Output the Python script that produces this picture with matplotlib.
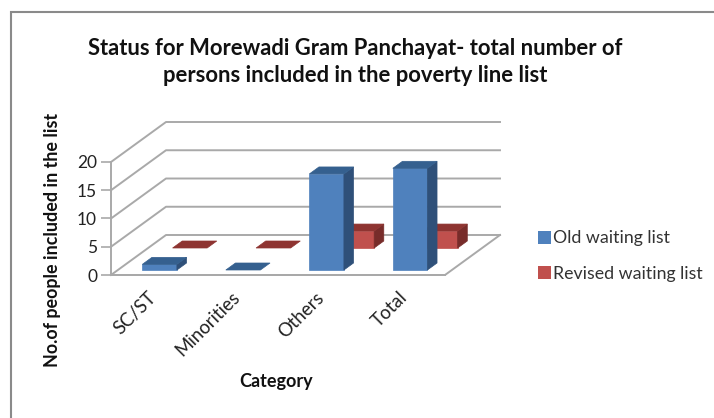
import matplotlib
matplotlib.use('AGG')
import matplotlib.pyplot as plt
from matplotlib.patches import Patch, Polygon, Rectangle
from matplotlib.transforms import ScaledTranslation

categories = ['SC/ST', 'Minorities', 'Others', 'Total']
old_list = [1, 0, 17, 18]
revised_list = [0, 0, 3, 3]
y_ticks = [0, 5, 10, 15, 20]

W, H = 714, 418
plt.rcParams['font.family'] = ['Lato', 'DejaVu Sans']

fig = plt.figure(figsize=(W / 100, H / 100), dpi=100)
# axes is the front plane of the fake 3d box
ax = fig.add_axes([111 / W, 1 - 275 / H, 334 / W, 113 / H])
ax.set_xlim(-0.5, 3.5)
ax.set_ylim(0, 20)

# depth offset of the whole box, in data units
depth_x = 55 / 83.5
depth_y = 40 / 5.65
grid_c = '#a9a9a9'


def proj(x, v, d):
    return x + d * depth_x, v + d * depth_y


def face(pts, color, z):
    ax.add_patch(Polygon([proj(*p) for p in pts], closed=True, facecolor=color,
                         edgecolor=color, lw=0.5, clip_on=False, zorder=z))


def bar3d(x0, x1, v, d0, d1, front, top, side, z):
    if v > 0:
        face([(x0, 0, d0), (x1, 0, d0), (x1, v, d0), (x0, v, d0)], front, z)
        face([(x1, 0, d0), (x1, 0, d1), (x1, v, d1), (x1, v, d0)], side, z)
    face([(x0, v, d0), (x1, v, d0), (x1, v, d1), (x0, v, d1)], top, z)


# gridlines on side wall and back wall
for v in y_ticks:
    px, py = zip(proj(-0.5, v, 0), proj(-0.5, v, 1), proj(3.5, v, 1))
    ax.plot(px, py, color=grid_c, lw=1.4, clip_on=False, zorder=1)
px, py = zip(proj(-0.5, 0, 0), proj(3.5, 0, 0), proj(3.5, 0, 1))
ax.plot(px, py, color=grid_c, lw=1.4, clip_on=False, zorder=1)

half = 0.207
for i in range(4):
    bar3d(i - half, i + half, revised_list[i], 0.675, 0.85,
          '#c0504d', '#8e3431', '#772c2a', 3)
for i in range(4):
    bar3d(i - half, i + half, old_list[i], 0.125, 0.3,
          '#4f81bd', '#35608f', '#2f5079', 4)

ax.patch.set_visible(False)
for s in ['top', 'right']:
    ax.spines[s].set_visible(False)
for s in ['left', 'bottom']:
    ax.spines[s].set_color(grid_c)
    ax.spines[s].set_linewidth(1.4)

ax.set_yticks(y_ticks)
ax.tick_params(axis='y', length=7, width=1.2, color=grid_c, labelsize=12.5, pad=3,
               labelcolor='#222222')
ax.set_xticks(range(4))
ax.set_xticklabels(categories, rotation=45, ha='right', rotation_mode='anchor',
                   fontsize=13.4, color='#222222')
ax.tick_params(axis='x', length=0, pad=10)
# labels sit a little left of the bar centres
shift = ScaledTranslation(-5 / 100, 0, fig.dpi_scale_trans)
for lab in ax.get_xticklabels():
    lab.set_transform(lab.get_transform() + shift)

fig.text(355 / W, 1 - 62 / H,
         'Status for Morewadi Gram Panchayat- total number of\npersons included in the poverty line list',
         ha='center', va='center', fontsize=15.8, fontweight='bold', linespacing=1.3,
         color='#111111')
fig.text(276 / W, 1 - 381 / H, 'Category', ha='center', va='center', fontsize=13,
         fontweight='bold', color='#111111')
fig.text(53 / W, 1 - 240 / H, 'No.of people included in the list', rotation=90,
         ha='center', va='center', fontsize=12.9, fontweight='bold', color='#111111')

handles = [Patch(facecolor='#4f81bd', label='Old waiting list'),
           Patch(facecolor='#c0504d', label='Revised waiting list')]
fig.legend(handles=handles, loc='center left', bbox_to_anchor=(538 / W, 1 - 256 / H),
           frameon=False, fontsize=12.8, handlelength=0.75, handleheight=0.75,
           handletextpad=0.1, labelspacing=1.1, borderpad=0, borderaxespad=0,
           labelcolor='#333333')

# chart area border
fig.add_artist(Rectangle((11 / W, -0.1), 1.1, 1.1 - 12 / H, transform=fig.transFigure,
                         fill=False, edgecolor='#8a8a8a', lw=1.5))

fig.savefig('out.png', dpi=100)
